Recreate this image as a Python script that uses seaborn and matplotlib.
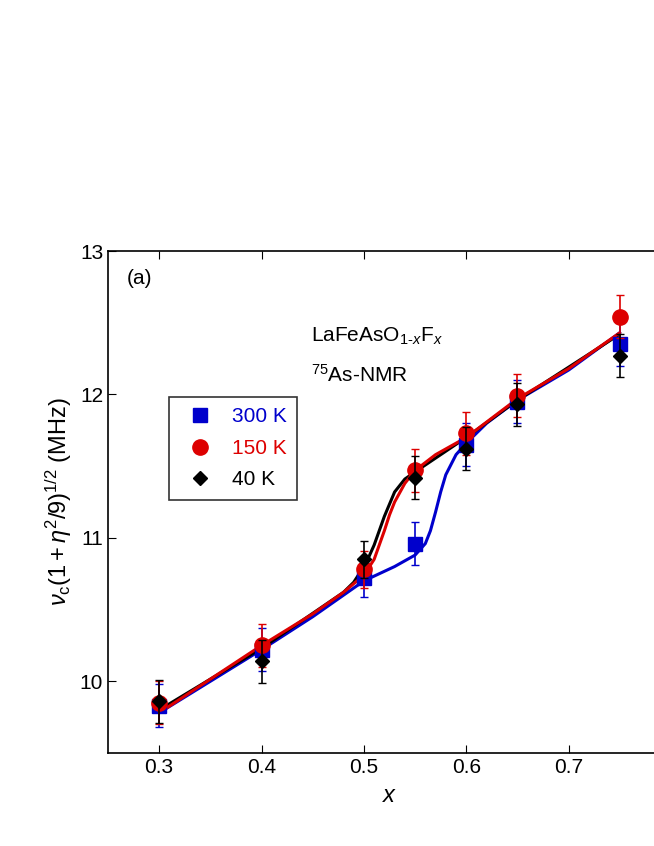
import matplotlib
matplotlib.use("Agg")
import matplotlib.pyplot as plt
import seaborn as sns
import numpy as np

sns.set_style("ticks")
plt.rcParams['font.family'] = ['Liberation Sans', 'DejaVu Sans']
plt.rcParams['mathtext.fontset'] = 'custom'
plt.rcParams['mathtext.rm'] = 'Liberation Sans'
plt.rcParams['mathtext.it'] = 'Liberation Sans:italic'
plt.rcParams['text.color'] = 'black'
plt.rcParams['axes.labelcolor'] = 'black'
plt.rcParams['xtick.color'] = 'black'
plt.rcParams['ytick.color'] = 'black'

x_pts = [0.3, 0.4, 0.5, 0.55, 0.6, 0.65, 0.75]
y300 = [9.83, 10.22, 10.72, 10.96, 11.65, 11.95, 12.35]
y150 = [9.85, 10.25, 10.78, 11.47, 11.73, 11.99, 12.54]
y40 = [9.86, 10.14, 10.85, 11.42, 11.62, 11.93, 12.27]
err = [0.15, 0.15, 0.13, 0.15, 0.15, 0.15, 0.15]

cx300 = [0.3, 0.4, 0.45, 0.5, 0.53, 0.55, 0.56, 0.565, 0.57, 0.575, 0.58, 0.59, 0.6, 0.62, 0.65, 0.7, 0.75]
cy300 = [9.78, 10.22, 10.45, 10.70, 10.80, 10.88, 10.96, 11.05, 11.18, 11.32, 11.44, 11.58, 11.66, 11.80, 11.96, 12.17, 12.43]
cx150 = [0.3, 0.4, 0.45, 0.48, 0.5, 0.51, 0.515, 0.52, 0.525, 0.53, 0.54, 0.55, 0.57, 0.6, 0.65, 0.7, 0.75]
cy150 = [9.78, 10.25, 10.47, 10.62, 10.74, 10.85, 10.95, 11.05, 11.16, 11.25, 11.38, 11.47, 11.58, 11.70, 11.97, 12.18, 12.43]
cx40 = [0.3, 0.4, 0.48, 0.49, 0.5, 0.505, 0.51, 0.515, 0.52, 0.53, 0.54, 0.55, 0.6, 0.65, 0.75]
cy40 = [9.80, 10.23, 10.62, 10.69, 10.80, 10.87, 10.95, 11.05, 11.15, 11.32, 11.41, 11.46, 11.70, 11.96, 12.42]

blue, red, black = '#0000cc', '#dd0000', '#000000'

fig = plt.figure(figsize=(6.54, 8.46), dpi=100)
ax = fig.add_axes([108/654, 93/846, (671-108)/654, (753-251)/846])

sns.lineplot(x=cx300, y=cy300, ax=ax, color=blue, lw=2.2, sort=True)
sns.lineplot(x=cx40, y=cy40, ax=ax, color=black, lw=2.2, sort=True)
sns.lineplot(x=cx150, y=cy150, ax=ax, color=red, lw=2.2, sort=True)

for y, c, m, s, lab in [(y300, blue, 's', 10, '300 K'), (y150, red, 'o', 11, '150 K'), (y40, black, 'D', 7, '40 K')]:
    ax.errorbar(x_pts, y, yerr=err, fmt='none', ecolor=c, elinewidth=1.2, capsize=3)
    ax.plot(x_pts, y, m, color=c, ms=s, label=lab, ls='none')

ax.set_xlim(0.25, 0.8)
ax.set_ylim(9.5, 13)
ax.set_xticks([0.3, 0.4, 0.5, 0.6, 0.7, 0.8])
ax.set_yticks([10, 11, 12, 13])
ax.tick_params(which='both', direction='in', top=True, right=True, labelsize=15)
ax.tick_params(which='major', length=6)
for sp in ax.spines.values():
    sp.set_linewidth(1.2)
    sp.set_color('black')

ax.set_xlabel('$x$', fontsize=17, labelpad=6)
ax.set_ylabel(r'$\nu_{\rm c}(1+\eta^2/9)^{1/2}$ (MHz)', fontsize=17)

leg = ax.legend(loc='upper left', bbox_to_anchor=(0.09, 0.73), fontsize=15,
                frameon=True, fancybox=False, edgecolor='black', handletextpad=0.5,
                borderpad=0.5, labelspacing=0.6)
leg.get_frame().set_linewidth(1.2)
for t, c in zip(leg.get_texts(), [blue, red, black]):
    t.set_color(c)

ax.text(0.033, 0.935, '(a)', transform=ax.transAxes, fontsize=15)
ax.text(0.36, 0.82, r'LaFeAsO$_{1\text{-}x}$F$_{x}$', transform=ax.transAxes, fontsize=15)
ax.text(0.36, 0.74, r'$^{75}$As-NMR', transform=ax.transAxes, fontsize=15)

fig.savefig('out.png', dpi=100)
